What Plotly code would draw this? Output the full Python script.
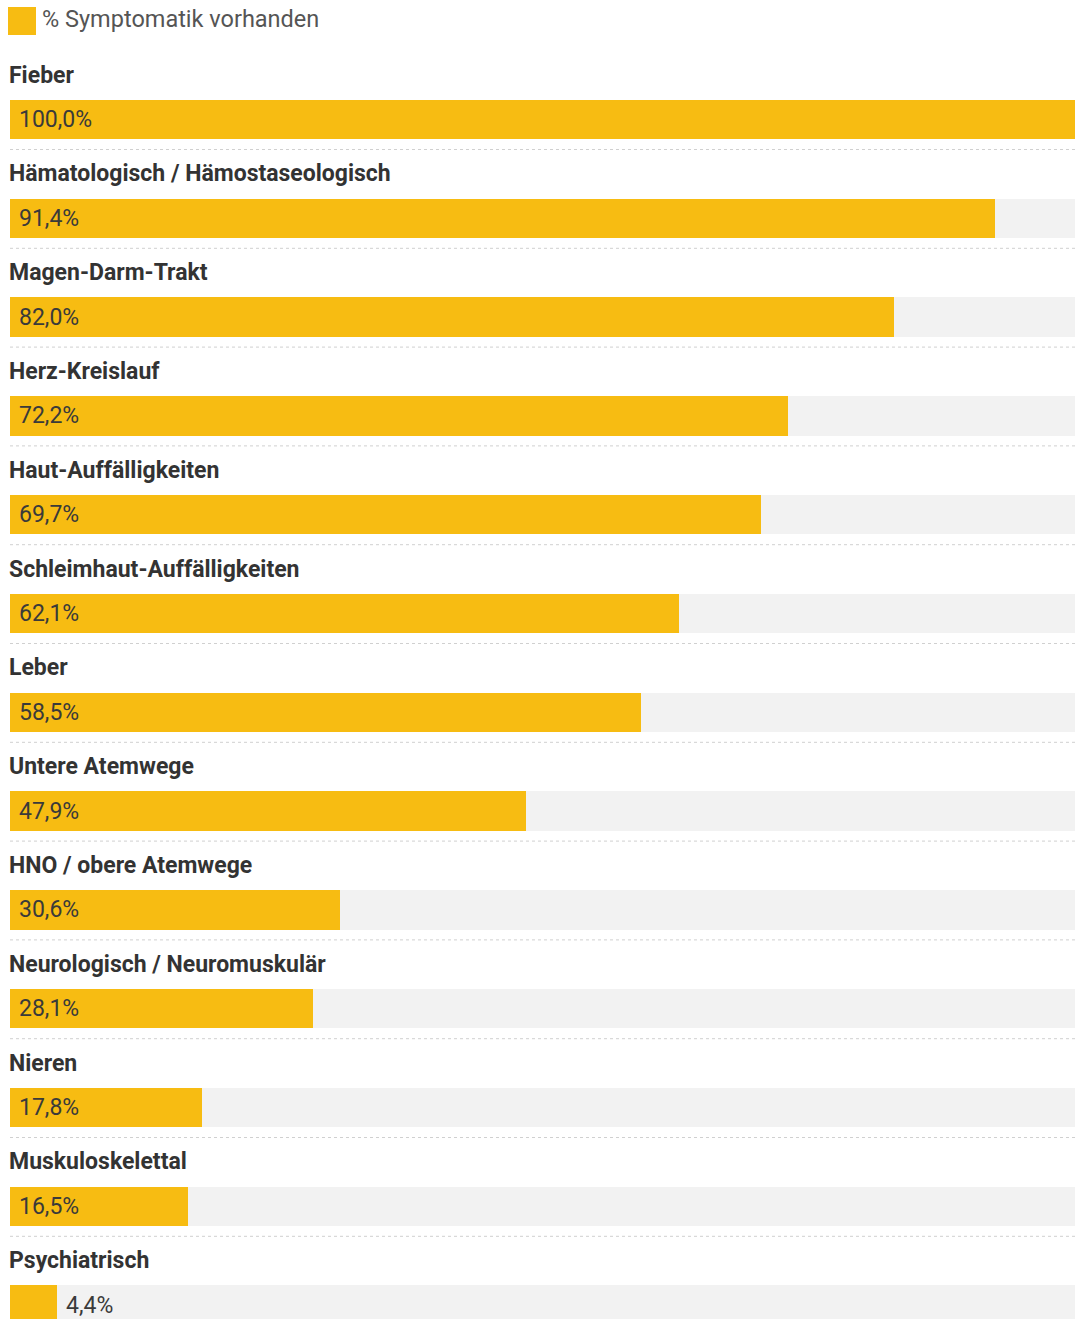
import plotly.graph_objects as go

categories = ["Fieber", "Hämatologisch / Hämostaseologisch", "Magen-Darm-Trakt", "Herz-Kreislauf",
              "Haut-Auffälligkeiten", "Schleimhaut-Auffälligkeiten", "Leber", "Untere Atemwege",
              "HNO / obere Atemwege", "Neurologisch / Neuromuskulär", "Nieren", "Muskuloskelettal",
              "Psychiatrisch"]
values = [100.0, 91.4, 82.0, 72.2, 69.7, 62.1, 58.5, 47.9, 30.6, 28.1, 17.8, 16.5, 4.4]
series_name = "% Symptomatik vorhanden"
full_scale = [100.0] * len(values)

W, H = 1075, 1319
PITCH = 98.8
FIRST = 119.5
rows = list(range(len(categories)))

YELLOW = "#F7BC12"
GRAY = "#F2F2F2"
FONT = "Roboto"

fig = go.Figure()
fig.add_trace(go.Bar(x=full_scale, y=rows, orientation="h", marker=dict(color=GRAY, line=dict(width=0)),
                     width=0.40, showlegend=False, hoverinfo="skip"))
fig.add_trace(go.Bar(x=values, y=rows, orientation="h", name=series_name,
                     marker=dict(color=YELLOW, line=dict(width=0)), width=0.40, showlegend=False))

annotations = []
shapes = []
for i, (c, v) in enumerate(zip(categories, values)):
    annotations.append(dict(x=0, y=i - 0.45, xref="x", yref="y", text=c, showarrow=False,
                            xanchor="left", yanchor="middle", xshift=-3,
                            font=dict(family=FONT, size=23, color="#333333", weight="bold")))
    txt = f"{v:.1f}%".replace(".", ",")
    xpos = 0 if v > 10 else v
    annotations.append(dict(x=xpos, y=i, xref="x", yref="y", text=txt, showarrow=False,
                            xanchor="left", yanchor="middle", xshift=7,
                            font=dict(family=FONT, size=23, color="#3a3a3a")))
    if i < len(categories) - 1:
        shapes.append(dict(type="line", xref="paper", yref="y", x0=0, x1=1,
                           y0=i + 30 / PITCH, y1=i + 30 / PITCH,
                           line=dict(color="#D0D0D0", width=1, dash="dot")))

# legend
shapes.append(dict(type="rect", xref="paper", yref="paper",
                   x0=(8 - 10) / 1065, x1=(36 - 10) / 1065, y0=1 - 35 / H, y1=1 - 7 / H,
                   fillcolor=YELLOW, line=dict(width=0)))
annotations.append(dict(x=(42 - 10) / 1065, y=1 - 19 / H, xref="paper", yref="paper", text=series_name,
                        showarrow=False, xanchor="left", yanchor="middle", xshift=-2,
                        font=dict(family=FONT, size=23.5, color="#555555")))

fig.update_layout(
    width=W, height=H, margin=dict(l=10, r=0, t=0, b=0),
    paper_bgcolor="white", plot_bgcolor="white",
    barmode="overlay", bargap=0,
    xaxis=dict(range=[0, 100 * 1065 / 1078], visible=False, fixedrange=True),
    yaxis=dict(range=[(H - FIRST) / PITCH, -FIRST / PITCH], visible=False, fixedrange=True),
    annotations=annotations, shapes=shapes, showlegend=False,
)
fig.write_html("out.html")
